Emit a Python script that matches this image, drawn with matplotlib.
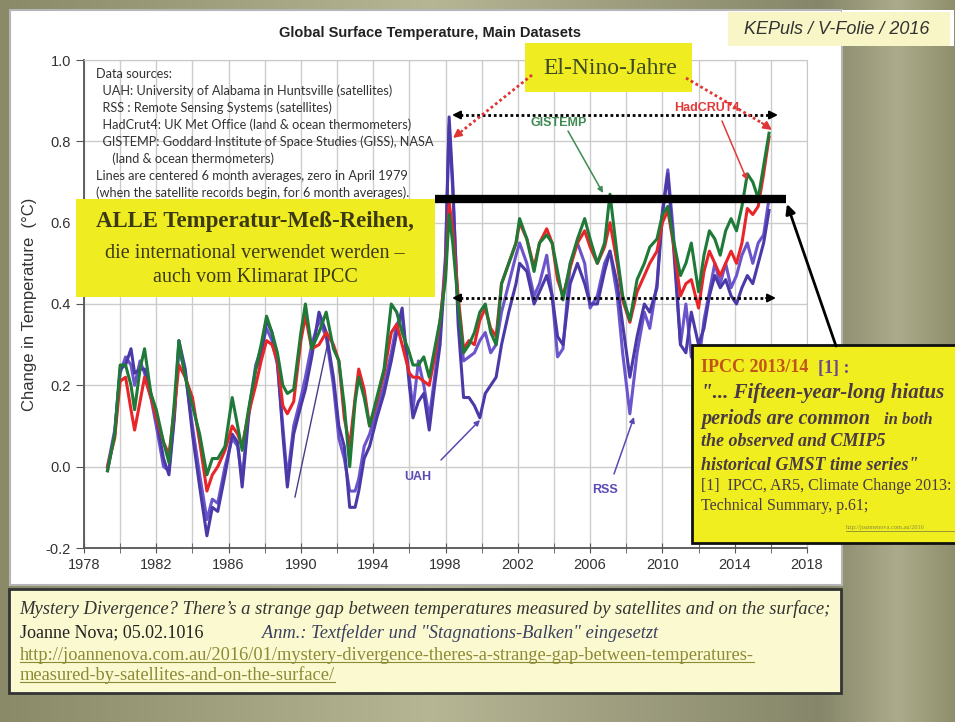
import numpy as np
import matplotlib
matplotlib.use("Agg")
import matplotlib.pyplot as plt
from matplotlib.patches import Rectangle
from matplotlib.colors import LinearSegmentedColormap

# 6-month centred averages (deg C, zero in April 1979)
years = [1979.3, 1979.7, 1980.0, 1980.3, 1980.6, 1980.8, 1981.1, 1981.35, 1981.7, 1982.0,
         1982.4, 1982.7, 1983.0, 1983.25, 1983.6, 1984.0, 1984.4, 1984.8, 1985.1, 1985.4,
         1985.8, 1986.2, 1986.5, 1986.75, 1987.1, 1987.5, 1987.8, 1988.1, 1988.4, 1988.7,
         1989.0, 1989.25, 1989.6, 1990.0, 1990.25, 1990.6, 1991.0, 1991.4, 1991.8, 1992.1,
         1992.4, 1992.7, 1993.0, 1993.2, 1993.5, 1993.8, 1994.2, 1994.6, 1995.0, 1995.3,
         1995.6, 1996.0, 1996.2, 1996.5, 1996.8, 1997.1, 1997.4, 1997.7, 1998.0, 1998.2,
         1998.4, 1998.7, 1999.0, 1999.3, 1999.6, 1999.9, 2000.2, 2000.5, 2000.8, 2001.1,
         2001.5, 2001.9, 2002.1, 2002.5, 2002.9, 2003.2, 2003.6, 2003.9, 2004.2, 2004.5,
         2004.9, 2005.3, 2005.7, 2006.0, 2006.4, 2006.8, 2007.1, 2007.5, 2007.8, 2008.2,
         2008.6, 2009.0, 2009.3, 2009.7, 2010.0, 2010.3, 2010.6, 2011.0, 2011.3, 2011.6,
         2012.0, 2012.3, 2012.6, 2012.9, 2013.2, 2013.5, 2013.8, 2014.1, 2014.4, 2014.7,
         2015.0, 2015.3, 2015.6, 2015.9]

gistemp = [-0.01, 0.08, 0.25, 0.25, 0.20, 0.14, 0.24, 0.29, 0.18, 0.14,
           0.06, 0.01, 0.16, 0.31, 0.22, 0.15, 0.08, -0.02, 0.02, 0.02,
           0.05, 0.17, 0.10, 0.04, 0.14, 0.24, 0.30, 0.37, 0.33, 0.28,
           0.20, 0.18, 0.19, 0.33, 0.40, 0.29, 0.33, 0.38, 0.29, 0.26,
           0.15, 0.00, 0.16, 0.22, 0.17, 0.10, 0.17, 0.24, 0.40, 0.38,
           0.33, 0.28, 0.25, 0.25, 0.27, 0.22, 0.29, 0.36, 0.46, 0.62,
           0.55, 0.40, 0.28, 0.30, 0.33, 0.38, 0.40, 0.33, 0.30, 0.45,
           0.50, 0.55, 0.61, 0.56, 0.48, 0.55, 0.57, 0.55, 0.48, 0.41,
           0.50, 0.56, 0.61, 0.56, 0.50, 0.55, 0.67, 0.52, 0.42, 0.36,
           0.46, 0.50, 0.54, 0.56, 0.62, 0.64, 0.56, 0.47, 0.50, 0.55,
           0.43, 0.52, 0.58, 0.56, 0.52, 0.58, 0.61, 0.58, 0.64, 0.72,
           0.70, 0.66, 0.74, 0.82]

hadcrut4 = [0.00, 0.07, 0.21, 0.22, 0.14, 0.09, 0.16, 0.22, 0.17, 0.12,
            0.06, 0.03, 0.14, 0.25, 0.22, 0.17, 0.06, -0.06, -0.02, 0.00,
            0.04, 0.10, 0.08, 0.05, 0.13, 0.20, 0.26, 0.31, 0.30, 0.26,
            0.15, 0.13, 0.16, 0.31, 0.37, 0.29, 0.30, 0.33, 0.30, 0.26,
            0.12, 0.05, 0.17, 0.24, 0.19, 0.10, 0.16, 0.23, 0.33, 0.35,
            0.30, 0.23, 0.22, 0.22, 0.21, 0.20, 0.27, 0.36, 0.48, 0.65,
            0.58, 0.42, 0.29, 0.31, 0.30, 0.36, 0.39, 0.34, 0.32, 0.45,
            0.50, 0.55, 0.60, 0.56, 0.49, 0.55, 0.585, 0.55, 0.46, 0.42,
            0.49, 0.55, 0.58, 0.54, 0.50, 0.54, 0.60, 0.50, 0.41, 0.355,
            0.43, 0.47, 0.50, 0.53, 0.60, 0.63, 0.55, 0.42, 0.45, 0.46,
            0.39, 0.48, 0.53, 0.50, 0.47, 0.50, 0.53, 0.50, 0.55, 0.635,
            0.62, 0.64, 0.72, 0.81]

uah = [-0.01, 0.08, 0.24, 0.25, 0.29, 0.23, 0.24, 0.24, 0.18, 0.12,
       0.02, -0.02, 0.12, 0.31, 0.24, 0.08, -0.05, -0.17, -0.10, -0.11,
       -0.02, 0.08, 0.06, -0.05, 0.12, 0.24, 0.27, 0.36, 0.33, 0.26,
       0.08, -0.05, 0.08, 0.15, 0.19, 0.27, 0.38, 0.33, 0.22, 0.10,
       0.05, -0.10, -0.10, -0.06, 0.02, 0.05, 0.12, 0.18, 0.26, 0.33,
       0.39, 0.20, 0.12, 0.16, 0.18, 0.09, 0.20, 0.30, 0.50, 0.86,
       0.70, 0.35, 0.17, 0.17, 0.15, 0.12, 0.18, 0.20, 0.22, 0.30,
       0.38, 0.45, 0.50, 0.48, 0.40, 0.43, 0.47, 0.42, 0.32, 0.30,
       0.45, 0.50, 0.45, 0.40, 0.40, 0.48, 0.53, 0.45, 0.35, 0.22,
       0.32, 0.40, 0.38, 0.44, 0.62, 0.72, 0.55, 0.30, 0.28, 0.38,
       0.30, 0.34, 0.42, 0.47, 0.44, 0.46, 0.42, 0.40, 0.44, 0.47,
       0.45, 0.50, 0.55, 0.63]

rss = [0.00, 0.09, 0.23, 0.27, 0.25, 0.20, 0.26, 0.23, 0.17, 0.10,
       0.00, -0.01, 0.13, 0.29, 0.23, 0.10, -0.02, -0.13, -0.08, -0.09,
       0.00, 0.07, 0.05, -0.03, 0.13, 0.25, 0.29, 0.34, 0.31, 0.25,
       0.10, -0.03, 0.10, 0.17, 0.22, 0.30, 0.36, 0.32, 0.20, 0.07,
       0.02, -0.06, -0.06, -0.03, 0.05, 0.08, 0.14, 0.20, 0.28, 0.35,
       0.37, 0.22, 0.14, 0.26, 0.20, 0.12, 0.22, 0.33, 0.52, 0.84,
       0.68, 0.38, 0.26, 0.27, 0.28, 0.31, 0.33, 0.28, 0.30, 0.38,
       0.45, 0.52, 0.55, 0.50, 0.42, 0.45, 0.52, 0.42, 0.27, 0.29,
       0.50, 0.55, 0.50, 0.39, 0.42, 0.50, 0.53, 0.42, 0.28, 0.13,
       0.28, 0.38, 0.34, 0.45, 0.63, 0.73, 0.58, 0.30, 0.40, 0.27,
       0.25, 0.36, 0.43, 0.50, 0.45, 0.50, 0.44, 0.47, 0.52, 0.55,
       0.50, 0.55, 0.57, 0.66]

x_ticks = [1978, 1982, 1986, 1990, 1994, 1998, 2002, 2006, 2010, 2014, 2018]
x_minor = [1980, 1984, 1988, 1992, 1996, 2000, 2004, 2008, 2012, 2016]
y_ticks = [-0.2, 0.0, 0.2, 0.4, 0.6, 0.8, 1.0]

source_lines = ["Data sources:",
                "  UAH: University of Alabama in Huntsville (satellites)",
                "  RSS : Remote Sensing Systems (satellites)",
                "  HadCrut4: UK Met Office (land & ocean thermometers)",
                "  GISTEMP: Goddard Institute of Space Studies (GISS), NASA",
                "     (land & ocean thermometers)",
                "Lines are centered 6 month averages, zero in April 1979",
                "(when the satellite records begin, for 6 month averages)."]

SERIF = "Liberation Serif"
SANS = "Liberation Sans"

fig = plt.figure(figsize=(9.55, 7.22), dpi=100)

# olive slide background + white panel
bg = fig.add_axes([0, 0, 1, 1], zorder=0)
bg.set_xlim(0, 955)
bg.set_ylim(722, 0)
bg.axis("off")
olive = LinearSegmentedColormap.from_list(
    "olive", [(0, "#8a8a68"), (0.45, "#b6b594"), (0.86, "#86866a"),
              (0.94, "#acab8b"), (1, "#8f8f6d")])
bg.imshow(np.linspace(0, 1, 256).reshape(1, -1), cmap=olive,
          extent=[0, 955, 722, 0], aspect="auto")
bg.add_patch(Rectangle((10, 10), 832, 575, fc="white", ec="#b5b5b5", lw=1.5))
bg.add_patch(Rectangle((842, 10), 112, 36, fc="white", ec="none"))

# main chart
ax = fig.add_axes([84 / 955, 1 - 548 / 722, (807 - 84) / 955, (548 - 60) / 722], zorder=1)
ax.plot(years, rss, color="#6c54cc", lw=2.2)
ax.plot(years, uah, color="#4a3aa8", lw=2.2)
ax.plot(years, hadcrut4, color="#e8262a", lw=2.2)
ax.plot(years, gistemp, color="#1f7a38", lw=2.2)

ax.set_xlim(1978, 2018)
ax.set_ylim(-0.2, 1.0)
ax.set_xticks(x_ticks)
ax.set_xticks(x_minor, minor=True)
ax.set_yticks(y_ticks)
ax.set_yticklabels(["%.1f" % v for v in y_ticks])
ax.grid(which="both", axis="x", color="#cccccc", lw=1)
ax.grid(which="major", axis="y", color="#cccccc", lw=1)
ax.set_axisbelow(True)
for side in ["left", "bottom"]:
    ax.spines[side].set_color("#555555")
    ax.spines[side].set_linewidth(1.3)
for side in ["top", "right"]:
    ax.spines[side].set_color("#c8c8c8")
ax.tick_params(axis="x", which="both", direction="inout", length=7, color="#555555",
               labelsize=10.5, labelcolor="#333333", pad=4)
ax.tick_params(axis="y", direction="out", length=6, color="#555555",
               labelsize=10.5, labelcolor="#333333")
for lab in ax.get_xticklabels() + ax.get_yticklabels():
    lab.set_family(SANS)
ax.set_ylabel("Change in Temperature  (\u00b0C)", fontsize=12, family=SANS,
              color="#333333", labelpad=6)

# annotations, in pixel coordinates of the picture
ov = fig.add_axes([0, 0, 1, 1], zorder=5)
ov.set_xlim(0, 955)
ov.set_ylim(722, 0)
ov.axis("off")

ov.text(430, 33, "Global Surface Temperature, Main Datasets", ha="center", va="center",
        fontsize=10.5, fontweight="bold", family=SANS, color="#222222")
ov.add_patch(Rectangle((728, 12), 222, 34, fc="#f8f5c6", ec="none"))
ov.text(837, 29, "KEPuls / V-Folie / 2016", ha="center", va="center", fontsize=13,
        style="italic", family=SANS, color="#333333")

for i, line in enumerate(source_lines):
    ov.text(96, 74 + i * 17, line, ha="left", va="center", fontsize=9.2,
            family="Lato", color="#333333")


def arrow(p0, p1, color, lw=1.2, ms=10, style="-|>"):
    ov.annotate("", xy=p1, xytext=p0,
                arrowprops=dict(arrowstyle=style, color=color, lw=lw, shrinkA=0,
                                shrinkB=0, mutation_scale=ms))


# stagnation bar and dotted level arrows
ov.plot([435, 786], [199, 199], color="black", lw=6, solid_capstyle="butt")
for yy, x0, x1 in [(115, 452, 778), (298, 452, 776)]:
    ov.plot([x0 + 8, x1 - 8], [yy, yy], color="black", lw=2, ls=(0, (1, 1)))
    arrow((x0 + 10, yy), (x0, yy), "black", lw=1.5, ms=12)
    arrow((x1 - 10, yy), (x1, yy), "black", lw=1.5, ms=12)

# El Nino box and red dotted arrows
ov.add_patch(Rectangle((525, 43), 167, 49, fc="#efec22", ec="none"))
ov.text(610, 68, "El-Nino-Jahre", ha="center", va="center", fontsize=17,
        family=SERIF, color="#3e4a20")
ov.plot([532, 462], [75, 131], color="#e03535", lw=2, ls=(0, (1, 1)))
arrow((462, 131), (453, 138), "#e03535", lw=1.5, ms=12)
ov.plot([686, 762], [78, 123], color="#e03535", lw=2, ls=(0, (1, 1)))
arrow((762, 123), (772, 130), "#e03535", lw=1.5, ms=12)

# series labels
ov.text(559, 123, "GISTEMP", ha="center", va="center", fontsize=9, fontweight="bold",
        family=SANS, color="#3e8a52")
arrow((568, 131), (603, 193), "#3e8a52", lw=1.1, ms=8)
ov.text(707, 108, "HadCRUT4", ha="center", va="center", fontsize=9, fontweight="bold",
        family=SANS, color="#e03a3a")
arrow((722, 121), (747, 180), "#e03a3a", lw=1.1, ms=8)
ov.text(418, 477, "UAH", ha="center", va="center", fontsize=9, fontweight="bold",
        family=SANS, color="#5a48b4")
arrow((441, 460), (480, 420), "#5a48b4", lw=1.1, ms=8)
ov.text(605, 490, "RSS", ha="center", va="center", fontsize=9, fontweight="bold",
        family=SANS, color="#5a48b4")
arrow((614, 474), (634, 417), "#5a48b4", lw=1.1, ms=8)
ov.plot([295, 328], [497, 342], color="#4a3a8a", lw=1)

# ALLE box
ov.add_patch(Rectangle((76, 199), 359, 98, fc="#efec22", ec="none"))
ov.text(255, 222, "ALLE Temperatur-Me\u00df-Reihen,", ha="center", va="center",
        fontsize=16.5, fontweight="bold", family=SERIF, color="#3c3a14")
ov.text(255, 254, "die international verwendet werden \u2013", ha="center", va="center",
        fontsize=14.5, family=SERIF, color="#3c3a14")
ov.text(255, 278, "auch vom Klimarat IPCC", ha="center", va="center",
        fontsize=14.5, family=SERIF, color="#3c3a14")

# IPCC box with arrow to the bar
arrow((836, 346), (787, 204), "black", lw=2, ms=14)
ov.add_patch(Rectangle((692, 345), 275, 198, fc="#f0ee1e", ec="#111111", lw=2,
                       clip_on=False))
ipcc_col = "#4a3a46"
ov.text(701, 368, "IPCC 2013/14", ha="left", va="center", fontsize=13, fontweight="bold",
        family=SERIF, color="#c2541a")
ov.text(818, 368, "[1] :", ha="left", va="center", fontsize=13, fontweight="bold",
        family=SERIF, color="#6a4a8a")
ov.text(701, 393, "\"... Fifteen-year-long hiatus", ha="left", va="center", fontsize=15,
        fontweight="bold", style="italic", family=SERIF, color=ipcc_col)
ov.text(701, 419, "periods are common", ha="left", va="center", fontsize=14.5,
        fontweight="bold", style="italic", family=SERIF, color=ipcc_col)
ov.text(884, 420, "in both", ha="left", va="center", fontsize=12,
        fontweight="bold", style="italic", family=SERIF, color=ipcc_col)
ov.text(701, 442, "the observed and CMIP5", ha="left", va="center", fontsize=13,
        fontweight="bold", style="italic", family=SERIF, color=ipcc_col)
ov.text(701, 465, "historical GMST time series\"", ha="left", va="center", fontsize=13,
        fontweight="bold", style="italic", family=SERIF, color=ipcc_col)
ov.text(701, 486, "[1]  IPCC, AR5, Climate Change 2013:", ha="left", va="center",
        fontsize=11.5, family=SERIF, color=ipcc_col)
ov.text(701, 506, "Technical Summary, p.61;", ha="left", va="center",
        fontsize=11.5, family=SERIF, color=ipcc_col)
ov.text(846, 527, "http://joannenova.com.au/2016", ha="left", va="center",
        fontsize=4.5, family=SERIF, color="#8a8a3a")
ov.plot([846, 955], [531, 531], color="#8a8a3a", lw=0.6)

# caption box
ov.add_patch(Rectangle((9, 589), 832, 104, fc="#fbf9d0", ec="#333333", lw=2))
ov.text(19, 609, "Mystery Divergence? There\u2019s a strange gap between temperatures "
        "measured by satellites and on the surface;", ha="left", va="center",
        fontsize=13.4, style="italic", family=SERIF, color="#333333")
ov.text(20, 633, "Joanne Nova; 05.02.1016", ha="left", va="center", fontsize=13,
        family=SERIF, color="#222222")
ov.text(262, 633, "Anm.: Textfelder und \"Stagnations-Balken\" eingesetzt", ha="left",
        va="center", fontsize=13.2, style="italic", family=SERIF, color="#3a4060")
url1 = ov.text(20, 655, "http://joannenova.com.au/2016/01/mystery-divergence-theres-a-"
               "strange-gap-between-temperatures-", ha="left", va="center",
               fontsize=13.2, family=SERIF, color="#8c8a35")
url2 = ov.text(20, 675, "measured-by-satellites-and-on-the-surface/", ha="left",
               va="center", fontsize=13.2, family=SERIF, color="#8c8a35")

fig.canvas.draw()
for t in [url1, url2]:
    bb = t.get_window_extent()
    yy = 722 - bb.y0 - 2
    ov.plot([bb.x0, bb.x1], [yy, yy], color="#8c8a35", lw=0.8)

fig.savefig("out.png", dpi=100)
